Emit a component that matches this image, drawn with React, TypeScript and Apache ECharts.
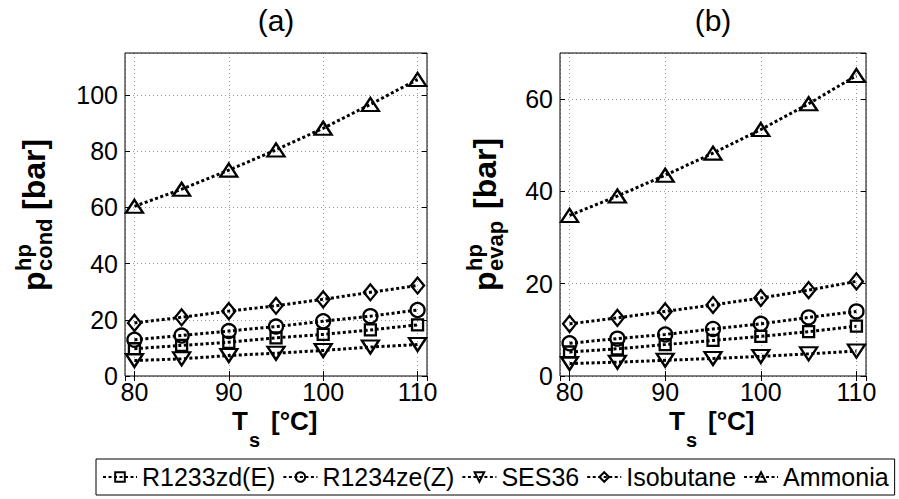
import React, { useEffect, useRef } from "react";
import * as echarts from "echarts";

const temps = [80, 85, 90, 95, 100, 105, 110];
const seriesNames = ["R1233zd(E)", "R1234ze(Z)", "SES36", "Isobutane", "Ammonia"];

const condR1233zdE = [9.7, 10.9, 12.0, 13.6, 14.8, 16.4, 18.2];
const condR1234zeZ = [12.9, 14.4, 16.0, 17.6, 19.5, 21.3, 23.5];
const condSES36 = [5.5, 6.1, 7.3, 8.1, 9.1, 10.3, 11.2];
const condIsobutane = [18.9, 20.9, 23.1, 25.0, 27.3, 29.8, 32.2];
const condAmmonia = [60.4, 66.5, 73.3, 80.5, 88.2, 96.7, 105.6];

const evapR1233zdE = [5.2, 5.9, 6.8, 7.7, 8.6, 9.6, 10.8];
const evapR1234zeZ = [7.1, 8.1, 9.0, 10.2, 11.3, 12.7, 14.0];
const evapSES36 = [2.7, 3.0, 3.4, 3.8, 4.25, 4.8, 5.4];
const evapIsobutane = [11.3, 12.6, 14.0, 15.4, 16.9, 18.6, 20.5];
const evapAmmonia = [34.8, 39.0, 43.5, 48.3, 53.4, 59.0, 65.1];

const condData = [condR1233zdE, condR1234zeZ, condSES36, condIsobutane, condAmmonia];
const evapData = [evapR1233zdE, evapR1234zeZ, evapSES36, evapIsobutane, evapAmmonia];

const xMin = 79;
const xMax = 111;
const xStep = 10;
const yStep = 20;
const condMax = 115;
const evapMax = 70;

const FONT = "'Liberation Sans', Arial, Helvetica, sans-serif";

const markerStyles = [
  { symbol: "rect", size: [11, 11], rotate: 0 },
  { symbol: "circle", size: 14, rotate: 0 },
  { symbol: "triangle", size: [17, 13], rotate: 180 },
  { symbol: "diamond", size: [13, 16], rotate: 0 },
  { symbol: "triangle", size: [17, 13], rotate: 0 },
];

function makeXAxes(gi: number) {
  const common = {
    type: "value",
    gridIndex: gi,
    min: xMin,
    max: xMax,
    minInterval: xStep,
    maxInterval: xStep,
    splitNumber: 3,
    axisLine: { show: false },
    axisTick: { show: true, inside: true, length: 5, lineStyle: { color: "#000", width: 1 } },
  };
  return [
    {
      ...common,
      position: "bottom",
      axisLabel: {
        showMinLabel: false,
        showMaxLabel: false,
        fontSize: 25,
        color: "#000",
        fontFamily: FONT,
        margin: 3,
      },
      splitLine: { show: true, lineStyle: { color: "#9a9a9a", width: 1, type: [1, 3] } },
    },
    {
      ...common,
      position: "top",
      axisLabel: { show: false },
      splitLine: { show: false },
    },
  ];
}

function makeYAxes(gi: number, max: number) {
  const common = {
    type: "value",
    gridIndex: gi,
    min: 0,
    max,
    interval: yStep,
    axisLine: { show: false },
    axisTick: { show: true, inside: true, length: 5, lineStyle: { color: "#000", width: 1 } },
  };
  return [
    {
      ...common,
      position: "left",
      axisLabel: {
        showMaxLabel: false,
        fontSize: 25,
        color: "#000",
        fontFamily: FONT,
        margin: 7,
      },
      splitLine: { show: true, lineStyle: { color: "#9a9a9a", width: 1, type: [1, 3] } },
    },
    {
      ...common,
      position: "right",
      axisLabel: { show: false },
      splitLine: { show: false },
    },
  ];
}

function makeSeries(gi: number, data: number[][]) {
  return seriesNames.map((name, i) => ({
    type: "line",
    name,
    xAxisIndex: gi * 2,
    yAxisIndex: gi * 2,
    data: temps.map((t, k) => [t, data[i][k]]),
    symbol: markerStyles[i].symbol,
    symbolSize: markerStyles[i].size,
    symbolRotate: markerStyles[i].rotate,
    showAllSymbol: true,
    silent: true,
    lineStyle: { color: "#000", width: 3, type: [3, 2.5] },
    itemStyle: { color: "transparent", borderColor: "#000", borderWidth: 2.3 },
    emphasis: { disabled: true },
  }));
}

function yTitle(x: number, y: number, sub: string) {
  const big = 32;
  const small = 22;
  const subW = sub === "cond" ? 53 : 54;
  return {
    type: "group",
    x,
    y,
    rotation: Math.PI / 2,
    children: [
      {
        type: "text",
        x: 0,
        y: -0.35 * big,
        style: { text: "p", fontSize: big, fontWeight: "bold", fontFamily: FONT, fill: "#000", align: "left", verticalAlign: "middle" },
      },
      {
        type: "text",
        x: 20,
        y: -14 - 0.35 * small,
        style: { text: "hp", fontSize: small, fontWeight: "bold", fontFamily: FONT, fill: "#000", align: "left", verticalAlign: "middle" },
      },
      {
        type: "text",
        x: 20,
        y: 7 - 0.35 * small,
        style: { text: sub, fontSize: small, fontWeight: "bold", fontFamily: FONT, fill: "#000", align: "left", verticalAlign: "middle" },
      },
      {
        type: "text",
        x: 20 + subW + 8,
        y: -0.35 * big,
        style: { text: "[bar]", fontSize: big, fontWeight: "bold", fontFamily: FONT, fill: "#000", align: "left", verticalAlign: "middle" },
      },
    ],
  };
}

function xTitle(x: number) {
  const big = 26;
  const small = 20;
  return [
    {
      type: "text",
      x,
      y: 430 - 0.35 * big,
      style: { text: "T", fontSize: big, fontWeight: "bold", fontFamily: FONT, fill: "#000", align: "left", verticalAlign: "middle" },
    },
    {
      type: "text",
      x: x + 17,
      y: 447 - 0.35 * small,
      style: { text: "s", fontSize: small, fontWeight: "bold", fontFamily: FONT, fill: "#000", align: "left", verticalAlign: "middle" },
    },
    {
      type: "text",
      x: x + 39,
      y: 430 - 0.35 * big,
      style: { text: "[°C]", fontSize: big, fontWeight: "bold", fontFamily: FONT, fill: "#000", align: "left", verticalAlign: "middle" },
    },
  ];
}

export default function App() {
  const ref = useRef<HTMLDivElement>(null);
  useEffect(() => {
    const chart = echarts.init(ref.current!, null, { renderer: "svg" });
    const option: any = {
      animation: false,
      backgroundColor: "#fff",
      textStyle: { fontFamily: FONT },
      grid: [
        { left: 125, top: 53, width: 302, height: 323, show: true, borderColor: "#000", borderWidth: 1, backgroundColor: "transparent", z: 5 },
        { left: 560, top: 53, width: 306, height: 323, show: true, borderColor: "#000", borderWidth: 1, backgroundColor: "transparent", z: 5 },
      ],
      xAxis: [...makeXAxes(0), ...makeXAxes(1)],
      yAxis: [...makeYAxes(0, condMax), ...makeYAxes(1, evapMax)],
      legend: {
        data: seriesNames,
        left: 96,
        top: 459,
        orient: "horizontal",
        itemWidth: 34,
        itemHeight: 12,
        itemGap: 7,
        padding: [3, 6, 3, 6],
        borderColor: "#000",
        borderWidth: 1,
        backgroundColor: "#fff",
        selectedMode: false,
        textStyle: { fontSize: 25, color: "#000", fontFamily: FONT, lineHeight: 30 },
      },
      series: [...makeSeries(0, condData), ...makeSeries(1, evapData)],
      graphic: [
        {
          type: "text",
          x: 276,
          y: 20,
          style: { text: "(a)", fontSize: 30, fontFamily: FONT, fill: "#000", align: "center", verticalAlign: "middle" },
        },
        {
          type: "text",
          x: 713,
          y: 20,
          style: { text: "(b)", fontSize: 30, fontFamily: FONT, fill: "#000", align: "center", verticalAlign: "middle" },
        },
        yTitle(45, 291, "cond"),
        yTitle(496, 291, "evap"),
        ...xTitle(232),
        ...xTitle(669),
      ],
    };
    chart.setOption(option);
    return () => chart.dispose();
  }, []);
  return (
    <div
      ref={ref}
      style={{ position: "fixed", left: 0, top: 0, width: 899, height: 499, background: "#fff" }}
    />
  );
}
